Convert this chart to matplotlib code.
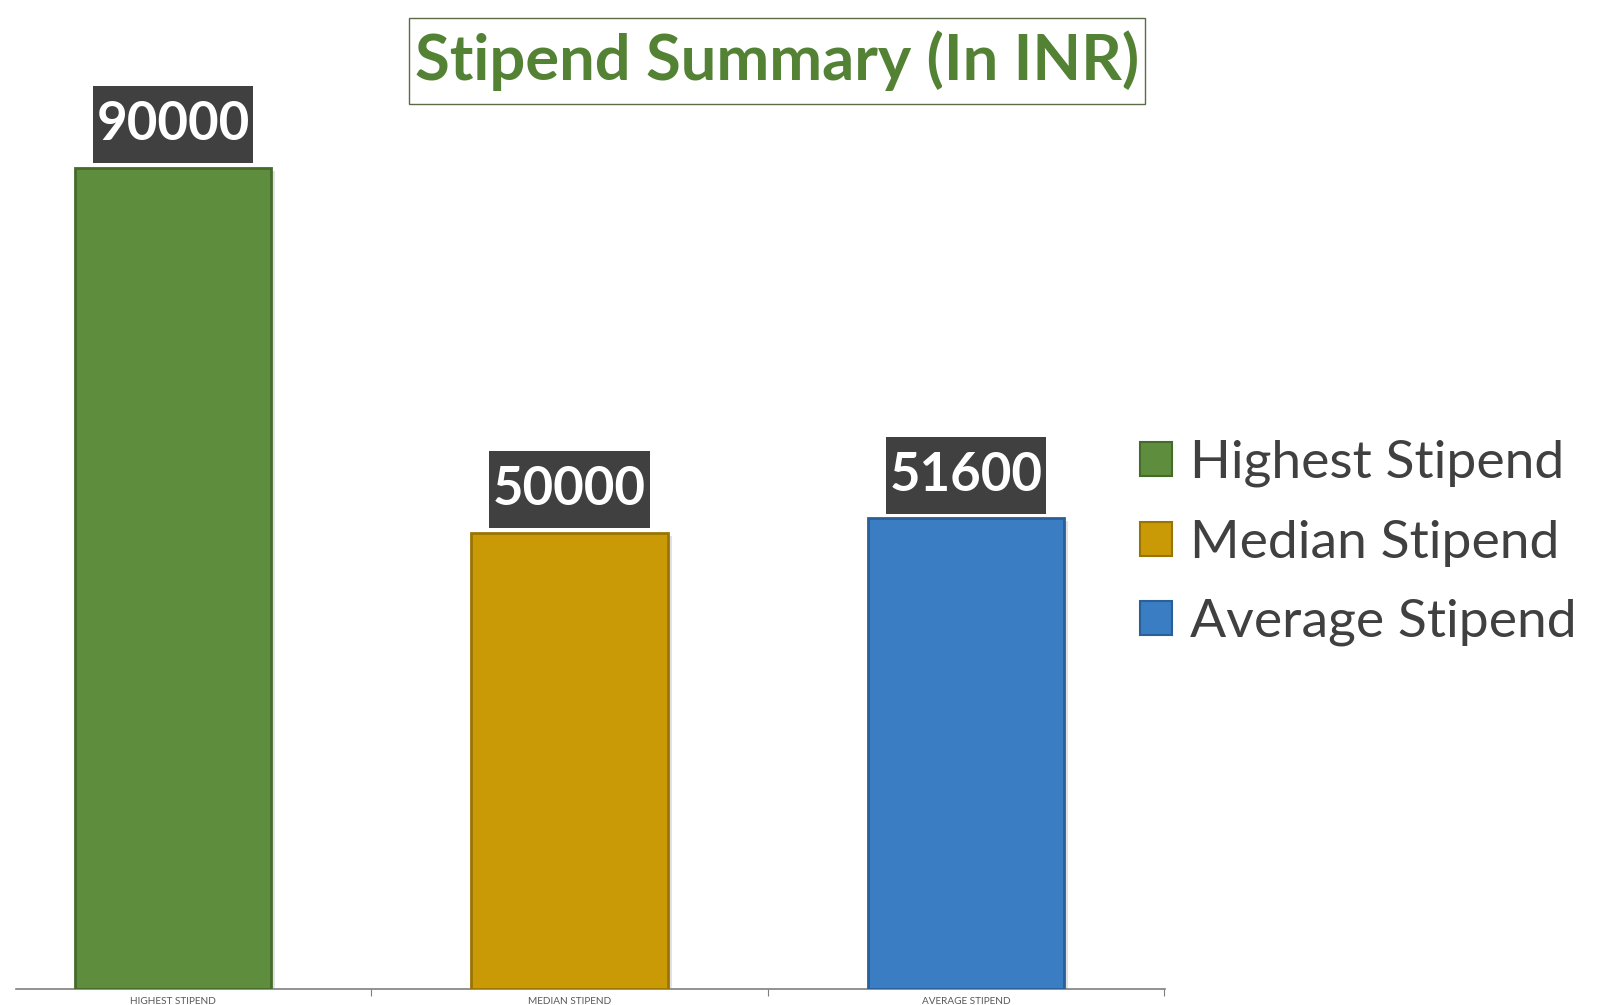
import matplotlib.pyplot as plt
from matplotlib.patches import Patch
import matplotlib.patheffects as pe

# Data
categories = ["HIGHEST STIPEND", "MEDIAN STIPEND", "AVERAGE STIPEND"]
legend_labels = ["Highest Stipend", "Median Stipend", "Average Stipend"]
values = [90000, 50000, 51600]
colors = ["#5E8E3D", "#CA9A06", "#3A7DC3"]
edge_colors = ["#456B2B", "#9A7403", "#2A5F97"]

plt.rcParams["font.family"] = ["Lato", "DejaVu Sans"]

fig = plt.figure(figsize=(16, 10.05), dpi=100)
ax = fig.add_axes([16 / 1600, 16 / 1005, (1165 - 16) / 1600, 1 - 16 / 1005])

# Bars with a soft shadow, value labels in dark boxes
for i, (v, c, ec) in enumerate(zip(values, colors, edge_colors)):
    bars = ax.bar(i, v, width=0.495, color=c, edgecolor=ec, linewidth=2,
                  label=legend_labels[i], zorder=3)
    for b in bars:
        b.set_path_effects([pe.SimplePatchShadow(offset=(3, -2), alpha=0.25,
                                                 shadow_rgbFace="#888888"),
                            pe.Normal()])
    ax.annotate(f"{v}", xy=(i, v), xytext=(0, 13.3), textcoords="offset points",
                ha="center", va="bottom", fontsize=38, fontweight="bold",
                color="white", zorder=4,
                bbox=dict(boxstyle="square,pad=0.07", fc="#404040", ec="none",
                          mutation_aspect=3.8))

ax.set_xlim(-0.396, 2.502)
ax.set_ylim(0, 108400)

# Axis styling
for side in ["top", "left", "right"]:
    ax.spines[side].set_visible(False)
ax.spines["bottom"].set_color("#7F7F7F")
ax.spines["bottom"].set_linewidth(1.2)
ax.set_yticks([])
ax.set_xticks([0.5, 1.5, 2.5])
ax.set_xticklabels([])
ax.tick_params(axis="x", which="major", length=5, color="#7F7F7F", direction="out")
ax.set_xticks(range(len(categories)), minor=True)
ax.set_xticklabels(categories, minor=True, fontsize=7.2, color="#595959")
ax.tick_params(axis="x", which="minor", length=0, pad=6)

# Title in a framed box
fig.text(777 / 1600, 1 - 61 / 1005, "Stipend Summary (In INR)", ha="center", va="center",
         fontsize=45.5, fontweight="bold", color="#548235",
         bbox=dict(boxstyle="square,pad=0.1", fc="white", ec="#5A6B48", lw=1,
                   mutation_aspect=2.0))

# Legend
handles = [Patch(facecolor=c, edgecolor=ec, linewidth=1.5) for c, ec in zip(colors, edge_colors)]
fig.legend(handles, legend_labels, loc="center left", bbox_to_anchor=(1140 / 1600, 1 - 543 / 1005),
           frameon=False, fontsize=38.5, handlelength=0.6, handleheight=0.6,
           handletextpad=0.33, labelspacing=0.6, borderpad=0, borderaxespad=0,
           labelcolor="#404040")

fig.savefig("out.png", dpi=100)
